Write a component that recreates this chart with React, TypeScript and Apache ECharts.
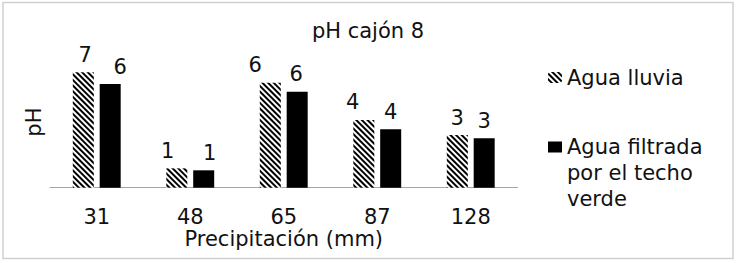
import React, { useEffect, useRef } from "react";
import * as echarts from "echarts";

const categories = ["31", "48", "65", "87", "128"];
const aguaLluvia = [7.04, 1.18, 6.4, 4.13, 3.21];
const aguaFiltrada = [6.32, 1.06, 5.85, 3.56, 3.01];
const seriesNames = ["Agua lluvia", "Agua filtrada\npor el techo\nverde"];

// horizontal nudges of the data labels (style only)
const lluviaLabelNudge = [2, -9, -15, -11, 0];
const filtradaLabelNudge = [10, 6, -1, 0, 0];

const FONT = "DejaVu Sans, Verdana, sans-serif";
const TXT = "#111";

export default function App() {
  const ref = useRef<HTMLDivElement>(null);
  useEffect(() => {
    if (!ref.current) return;
    const chart = echarts.init(ref.current, undefined, { renderer: "svg" });
    const labelBase = {
      show: true,
      position: "top",
      distance: 7,
      fontSize: 21,
      fontFamily: FONT,
      color: TXT,
      formatter: (p: any) => String(Math.round(p.value)),
    };
    chart.setOption({
      animation: false,
      backgroundColor: "#fff",
      textStyle: { fontFamily: FONT },
      title: {
        text: "pH cajón 8",
        left: "center",
        top: 20,
        padding: 0,
        textStyle: { fontSize: 21, fontWeight: "normal", color: TXT, fontFamily: FONT },
      },
      graphic: [
        {
          type: "rect",
          shape: { x: 3, y: 2.5, width: 730, height: 256 },
          style: { fill: "none", stroke: "#d0d0d0", lineWidth: 1.5 },
          silent: true,
        },
      ],
      legend: [
        {
          data: [seriesNames[0]],
          orient: "vertical",
          left: 548,
          top: 64.5,
          padding: 0,
          itemWidth: 14,
          itemHeight: 11,
          textStyle: { fontSize: 21, color: TXT, fontFamily: FONT, lineHeight: 26 },
        },
        {
          data: [
            {
              name: seriesNames[1],
              icon: "path://M0,0H14V11H0Z M0,62.9H0.05V63H0Z",
            },
          ],
          orient: "vertical",
          left: 548,
          top: 134,
          padding: 0,
          itemWidth: 14,
          itemHeight: 63,
          textStyle: { fontSize: 21, color: TXT, fontFamily: FONT, lineHeight: 26 },
        },
      ],
      grid: { left: 50, right: 218.5, top: 56.5, bottom: 75.3 },
      xAxis: {
        type: "category",
        data: categories,
        name: "Precipitación (mm)",
        nameLocation: "middle",
        nameGap: 31,
        nameTextStyle: { fontSize: 21, color: TXT, fontFamily: FONT },
        axisLine: { lineStyle: { color: "#a6a6a6", width: 1 } },
        axisTick: { show: false },
        axisLabel: { fontSize: 21, color: TXT, fontFamily: FONT, margin: 19 },
      },
      yAxis: {
        type: "value",
        min: 0,
        max: 8,
        name: "pH",
        nameLocation: "middle",
        nameGap: 6,
        nameTextStyle: { fontSize: 21, color: TXT, fontFamily: FONT },
        axisLine: { show: false },
        axisTick: { show: false },
        axisLabel: { show: false },
        splitLine: { show: false },
      },
      series: [
        {
          name: seriesNames[0],
          type: "bar",
          barWidth: 21,
          barGap: "28%",
          data: aguaLluvia.map((v, i) => ({
            value: v,
            label: { offset: [lluviaLabelNudge[i], 0] },
          })),
          itemStyle: {
            color: "#fff",
            decal: {
              symbol: "rect",
              symbolSize: 1,
              color: "#000",
              dashArrayX: [1, 0],
              dashArrayY: [1.4, 1.8],
              rotation: Math.PI / 4,
            },
          },
          label: labelBase,
        },
        {
          name: seriesNames[1],
          type: "bar",
          barWidth: 21,
          data: aguaFiltrada.map((v, i) => ({
            value: v,
            label: { offset: [filtradaLabelNudge[i], 0] },
          })),
          itemStyle: { color: "#000" },
          label: labelBase,
        },
      ],
    });
    return () => chart.dispose();
  }, []);
  return (
    <div
      ref={ref}
      style={{ position: "fixed", left: 0, top: 0, width: 736, height: 263 }}
    />
  );
}
